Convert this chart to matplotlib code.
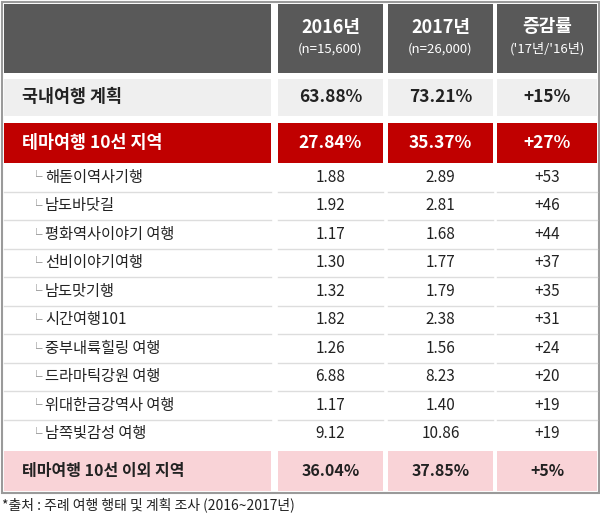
import matplotlib.pyplot as plt
from matplotlib.patches import Rectangle

plt.rcParams['font.family'] = 'Noto Sans CJK KR'

headers = ['2016년', '2017년', '증감률']
header_sub = ['(n=15,600)', '(n=26,000)', "('17년/'16년)"]
total_label = '국내여행 계획'
total_vals = ['63.88%', '73.21%', '+15%']
theme_label = '테마여행 10선 지역'
theme_vals = ['27.84%', '35.37%', '+27%']
regions = ['해돋이역사기행', '남도바닷길', '평화역사이야기 여행', '선비이야기여행', '남도맛기행',
           '시간여행101', '중부내륙힐링 여행', '드라마틱강원 여행', '위대한금강역사 여행', '남쪽빛감성 여행']
v2016 = [1.88, 1.92, 1.17, 1.30, 1.32, 1.82, 1.26, 6.88, 1.17, 9.12]
v2017 = [2.89, 2.81, 1.68, 1.77, 1.79, 2.38, 1.56, 8.23, 1.40, 10.86]
growth = [53, 46, 44, 37, 35, 31, 24, 20, 19, 19]
other_label = '테마여행 10선 이외 지역'
other_vals = ['36.04%', '37.85%', '+5%']

fig = plt.figure(figsize=(6, 5.21), dpi=100)
ax = fig.add_axes([0, 0, 1, 1])
ax.set_xlim(0, 600)
ax.set_ylim(521, 0)
ax.axis('off')

cols = [(4, 271), (278, 383), (388, 493), (497, 597)]
ax.add_patch(Rectangle((1.5, 1.5), 597, 491, fill=False, ec='#9a9a9a', lw=1.5))

def row(y0, y1, color, texts, tcolor='#222222', size=11.5, weight='normal', first_x=22):
    for (a, b) in cols:
        ax.add_patch(Rectangle((a, y0), b - a, y1 - y0, color=color, lw=0))
    ym = (y0 + y1) / 2
    ax.text(first_x, ym, texts[0], ha='left', va='center', color=tcolor,
            fontsize=size, fontweight=weight)
    for (a, b), t in zip(cols[1:], texts[1:]):
        ax.text((a + b) / 2, ym, t, ha='center', va='center', color=tcolor, fontsize=size, fontweight=weight)

# header
for (a, b) in cols:
    ax.add_patch(Rectangle((a, 4), b - a, 69, color='#595959', lw=0))
for (a, b), h, s in zip(cols[1:], headers, header_sub):
    ax.text((a + b) / 2, 27, h, ha='center', va='center', color='white', fontsize=13, fontweight='bold')
    ax.text((a + b) / 2, 49, s, ha='center', va='center', color='white', fontsize=9.5)

row(79, 116, '#efefef', [total_label] + total_vals, size=12.5, weight='bold')
row(123, 163, '#c00000', [theme_label] + theme_vals, tcolor='white', size=12.5, weight='bold')

h = 28.5
y = 163
for name, a, b, g in zip(regions, v2016, v2017, growth):
    ym = y + h / 2
    row(y, y + h, 'white', [name, f'{a:.2f}', f'{b:.2f}', f'+{g}'], size=11, first_x=45)
    ax.text(30, ym, '└', ha='left', va='center', color='#888888', fontsize=9)
    if name != regions[-1]:
        for (c0, c1) in cols:
            ax.plot([c0, c1], [y + h, y + h], color='#dddddd', lw=1)
    y += h

row(451, 491, '#f9d3d7', [other_label] + other_vals, size=11.5, weight='bold')

ax.text(2, 505, '*출처 : 주례 여행 행태 및 계획 조사 (2016~2017년)', ha='left', va='center',
        fontsize=10, color='#222222')

fig.savefig('out.png', dpi=100)
